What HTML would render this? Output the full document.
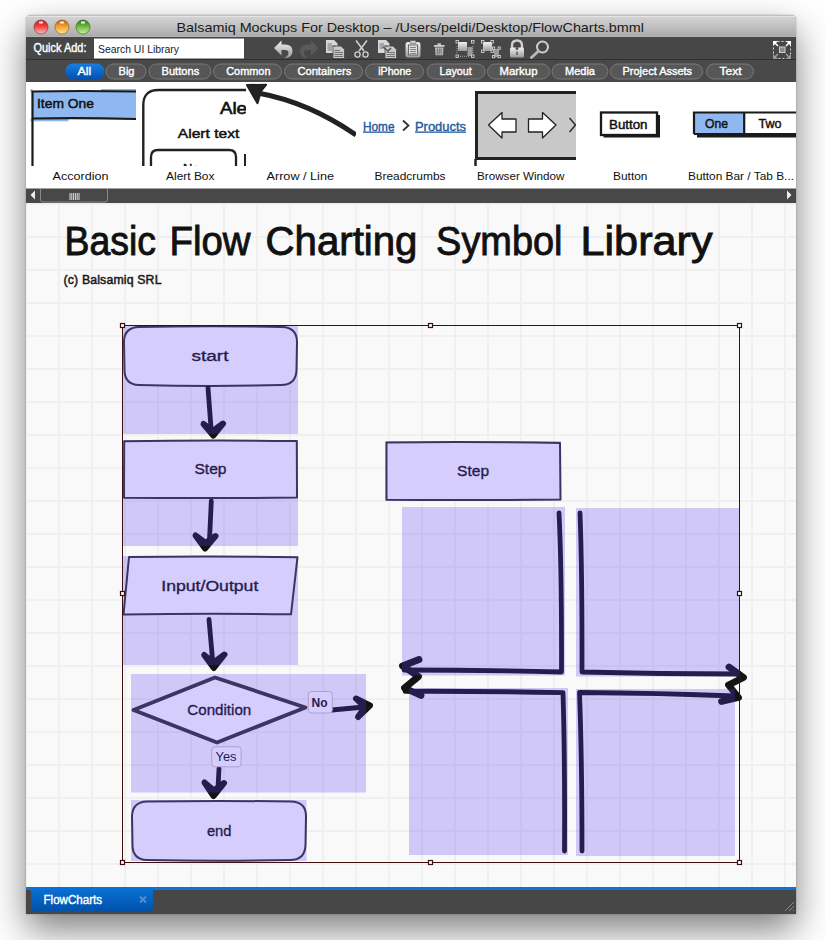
<!DOCTYPE html>
<html><head><meta charset="utf-8">
<style>
html,body{margin:0;padding:0}
body{width:825px;height:940px;position:relative;overflow:hidden;background:#fff;font-family:"Liberation Sans",sans-serif}
.a{position:absolute}
#shadow{left:26px;top:15px;width:770px;height:899px;border-radius:5px 5px 0 0;box-shadow:0 16px 36px rgba(0,0,0,0.5),0 0 2px rgba(0,0,0,0.3);background:#474747}
svg{position:absolute;left:0;top:0}
text{font-family:"Liberation Sans",sans-serif}
</style></head><body>
<div id="shadow" class="a"></div>
<svg width="825" height="940" viewBox="0 0 825 940">
<defs>
  <linearGradient id="gTitle" x1="0" y1="0" x2="0" y2="1">
    <stop offset="0" stop-color="#d6d6d6"/><stop offset="0.5" stop-color="#c2c2c2"/><stop offset="1" stop-color="#a9a9a9"/>
  </linearGradient>
  <linearGradient id="gRed" x1="0" y1="0" x2="0" y2="1">
    <stop offset="0" stop-color="#c41a1a"/><stop offset="0.45" stop-color="#f04040"/><stop offset="1" stop-color="#ffc0c0"/>
  </linearGradient>
  <linearGradient id="gYel" x1="0" y1="0" x2="0" y2="1">
    <stop offset="0" stop-color="#c05a10"/><stop offset="0.45" stop-color="#f0a030"/><stop offset="1" stop-color="#ffe890"/>
  </linearGradient>
  <linearGradient id="gGrn" x1="0" y1="0" x2="0" y2="1">
    <stop offset="0" stop-color="#2a7a1a"/><stop offset="0.45" stop-color="#6ab83e"/><stop offset="1" stop-color="#d0f0a0"/>
  </linearGradient>
  <linearGradient id="gIcon" x1="0" y1="0" x2="0" y2="1">
    <stop offset="0" stop-color="#f2f2f2"/><stop offset="1" stop-color="#9a9a9a"/>
  </linearGradient>
  <linearGradient id="gTab" x1="0" y1="0" x2="0" y2="1">
    <stop offset="0" stop-color="#0a72d8"/><stop offset="1" stop-color="#0052aa"/>
  </linearGradient>
  <linearGradient id="gAll" x1="0" y1="0" x2="0" y2="1">
    <stop offset="0" stop-color="#1a7ee0"/><stop offset="1" stop-color="#0050b0"/>
  </linearGradient>
  <pattern id="grid" x="25" y="203" width="33" height="33" patternUnits="userSpaceOnUse">
    <rect x="0" y="0" width="33" height="33" fill="#f9f9f9"/>
    <rect x="0" y="0" width="2" height="33" fill="#f0f0f0"/>
    <rect x="0" y="0" width="33" height="2" fill="#f0f0f0"/>
  </pattern>
  <clipPath id="clipLib"><rect x="26" y="82" width="770" height="107"/></clipPath>
  <clipPath id="clipCanvas"><rect x="26" y="203" width="770" height="684"/></clipPath>
</defs>

<!-- ===== TITLE BAR ===== -->
<path d="M26,37 V20 Q26,15 31,15 H791 Q796,15 796,20 V37 Z" fill="url(#gTitle)"/>
<rect x="28" y="15" width="766" height="1" fill="#c0c0c0"/><rect x="27" y="16" width="768" height="1" fill="#e4e4e4"/><rect x="26" y="36" width="770" height="1" fill="#b4b4b4"/>
<circle cx="41" cy="27" r="7" fill="url(#gRed)" stroke="#8a2020" stroke-width="0.6"/>
<ellipse cx="41" cy="22.5" rx="2.3" ry="1.3" fill="#fff" opacity="0.8"/>
<circle cx="62" cy="27" r="7" fill="url(#gYel)" stroke="#8a5010" stroke-width="0.6"/>
<ellipse cx="62" cy="22.5" rx="2.3" ry="1.3" fill="#fff" opacity="0.8"/>
<circle cx="83" cy="27" r="7" fill="url(#gGrn)" stroke="#2a5a1a" stroke-width="0.6"/>
<ellipse cx="83" cy="22.5" rx="2.3" ry="1.3" fill="#fff" opacity="0.8"/>
<text x="176.5" y="31.5" font-size="13.5" fill="#1a1a1a" textLength="467.5" lengthAdjust="spacingAndGlyphs">Balsamiq Mockups For Desktop – /Users/peldi/Desktop/FlowCharts.bmml</text>

<!-- ===== TOOLBAR ===== -->
<rect x="26" y="37" width="770" height="22" fill="#474747"/>
<rect x="26" y="59" width="770" height="1" fill="#303030"/>
<text x="33.5" y="52" font-size="12" fill="#fff" stroke="#fff" stroke-width="0.4" textLength="53" lengthAdjust="spacingAndGlyphs">Quick Add:</text>
<rect x="94" y="38" width="150" height="20.5" fill="#fff"/>
<rect x="94" y="38" width="150" height="1" fill="#9a9a9a"/>
<text x="98" y="52.5" font-size="11.5" fill="#1a2030" textLength="81" lengthAdjust="spacingAndGlyphs">Search UI Library</text>

<!-- icons -->
<g id="icons">
  <!-- undo -->
  <path d="M274,48 L281.5,40.5 V44.5 H285 Q292.5,44.5 292.5,51 Q292.5,58 285,58 H284 Q288.5,56 288.5,52.5 Q288.5,50 285,50 H281.5 V55.5 Z" fill="url(#gIcon)"/>
  <!-- redo (disabled) -->
  <path d="M318.5,48 L311,40.5 V44.5 H307.5 Q300,44.5 300,51 Q300,58 307.5,58 H308.5 Q304,56 304,52.5 Q304,50 307.5,50 H311 V55.5 Z" fill="#5a5a5a"/>
  <!-- copy -->
  <g fill="#d8d8d8">
    <path d="M326,40 H334 L337.5,43.5 V53 H326 Z"/>
    <path d="M333,46 H341 L344.5,49.5 V58.5 H333 Z" fill="#c8c8c8" stroke="#474747" stroke-width="0.8"/>
  </g>
  <g stroke="#6a6a6a" stroke-width="0.9">
    <path d="M327.5,44 H332 M327.5,46 H336 M327.5,48 H332 M327.5,50 H332"/>
    <path d="M334.5,50.5 H340 M334.5,52.5 H343 M334.5,54.5 H343 M334.5,56.5 H343"/>
  </g>
  <!-- cut -->
  <g stroke="#d0d0d0" fill="none">
    <path d="M356,40.5 L364,51 M367,40.5 L359,51" stroke-width="1.6"/>
    <circle cx="357.5" cy="54.5" r="2.6" stroke-width="1.3"/>
    <circle cx="365.5" cy="54.5" r="2.6" stroke-width="1.3"/>
  </g>
  <!-- duplicate -->
  <path d="M378,40 H386 L389.5,43.5 V53 H378 Z" fill="#d8d8d8"/>
  <path d="M385,46 H393 L396.5,49.5 V58.5 H385 Z" fill="#c8c8c8" stroke="#474747" stroke-width="0.8"/>
  <g stroke="#6a6a6a" stroke-width="0.9"><path d="M379.5,44 H384 M379.5,46 H388 M379.5,48 H383"/><path d="M386.5,52.5 H395 M386.5,54.5 H395 M386.5,56.5 H395"/></g>
  <path d="M383,47 L388,51 L391,48" stroke="#555" stroke-width="1.6" fill="none"/>
  <!-- clipboard -->
  <rect x="405.5" y="42" width="15" height="15.5" rx="2.5" fill="url(#gIcon)"/>
  <rect x="408" y="44.5" width="10" height="11" fill="#6a6a6a"/>
  <rect x="409" y="45.5" width="8" height="9" fill="#e0e0e0"/>
  <rect x="410" y="40.5" width="6" height="3" rx="1" fill="#cfcfcf" stroke="#555" stroke-width="0.6"/>
  <g stroke="#777" stroke-width="0.9"><path d="M410,47.5 H416 M410,49.5 H416 M410,51.5 H416 M410,53.5 H416"/></g>
  <!-- trash -->
  <rect x="434" y="45" width="10.5" height="1.8" fill="#d0d0d0"/>
  <rect x="437.5" y="43.3" width="3.5" height="1.6" fill="#d0d0d0"/>
  <path d="M435,47.5 H443.5 L443,55.3 H435.5 Z" fill="#bdbdbd"/>
  <g stroke="#555" stroke-width="0.8"><path d="M437.3,48.5 V54.5 M439.2,48.5 V54.5 M441.1,48.5 V54.5"/></g>
  <!-- group -->
  <rect x="458" y="42" width="9" height="9" fill="url(#gIcon)"/>
  <rect x="467.5" y="47" width="5" height="9" fill="#9a9a9a"/>
  <g fill="#474747" stroke="#ddd" stroke-width="0.8">
    <rect x="456" y="40.5" width="2.5" height="2.5"/><rect x="471.5" y="40.5" width="2.5" height="2.5"/>
    <rect x="456" y="55" width="2.5" height="2.5"/><rect x="471.5" y="55" width="2.5" height="2.5"/>
  </g>
  <path d="M457,46 V53 M460,56.3 H470 M472.8,46 V53" stroke="#bbb" stroke-width="0.8" stroke-dasharray="1,1"/>
  <!-- ungroup -->
  <rect x="483" y="42" width="9" height="9" fill="url(#gIcon)"/>
  <rect x="494" y="49" width="5" height="8" fill="#9a9a9a"/>
  <g fill="#474747" stroke="#ddd" stroke-width="0.8">
    <rect x="481.5" y="40.5" width="2.5" height="2.5"/><rect x="491" y="40.5" width="2.5" height="2.5"/>
    <rect x="481.5" y="50" width="2.5" height="2.5"/><rect x="491" y="50" width="2.5" height="2.5"/>
    <rect x="492.5" y="47" width="2.3" height="2.3"/><rect x="498" y="47" width="2.3" height="2.3"/>
    <rect x="492.5" y="55.5" width="2.3" height="2.3"/><rect x="498" y="55.5" width="2.3" height="2.3"/>
  </g>
  <!-- lock -->
  <path d="M512,48 V45.5 Q512,40.5 517,40.5 Q522,40.5 522,45.5 V48" stroke="#cfcfcf" stroke-width="2.4" fill="none"/>
  <rect x="510" y="47.5" width="14" height="10" rx="1.5" fill="url(#gIcon)"/>
  <path d="M517,50 a1.5,1.5 0 1,1 0.01,0 M516.3,51.5 H517.7 V55 H516.3 Z" fill="#555"/>
  <!-- search -->
  <circle cx="542.5" cy="47" r="5.5" stroke="#cfcfcf" stroke-width="2" fill="none"/>
  <path d="M538.5,51 L531.5,57.5" stroke="#b8b8b8" stroke-width="3" stroke-linecap="round"/>
  <!-- fit to screen -->
  <g>
    <rect x="773.5" y="41.5" width="17" height="17" fill="none" stroke="#d8d8d8" stroke-width="1" stroke-dasharray="2,2"/>
    <path d="M773,41 H778 L773,46 Z M791,41 H786 L791,46 Z" fill="#fff"/>
    <path d="M774,42 L778,46 M790,42 L786,46" stroke="#fff" stroke-width="1.6"/>
    <path d="M773,59 H778 L773,54 Z M791,59 H786 L791,54 Z" fill="#9a9a9a"/>
    <path d="M774,58 L778,54 M790,58 L786,54" stroke="#9a9a9a" stroke-width="1.6"/>
    <rect x="779.5" y="47" width="5.5" height="5.5" fill="#8a8a8a" stroke="#d0d0d0" stroke-width="1"/>
  </g>
</g>

<!-- ===== FILTER BAR ===== -->
<rect x="26" y="60" width="770" height="22" fill="#494949"/>
<g stroke="#7a7a7a" stroke-width="1" fill="#575757">
  <rect x="106" y="64" width="40" height="15" rx="7.5"/>
  <rect x="149" y="64" width="62" height="15" rx="7.5"/>
  <rect x="213.5" y="64" width="68" height="15" rx="7.5"/>
  <rect x="284.5" y="64" width="78" height="15" rx="7.5"/>
  <rect x="365.5" y="64" width="58" height="15" rx="7.5"/>
  <rect x="427" y="64" width="58" height="15" rx="7.5"/>
  <rect x="487.5" y="64" width="62" height="15" rx="7.5"/>
  <rect x="552" y="64" width="56" height="15" rx="7.5"/>
  <rect x="610.5" y="64" width="92" height="15" rx="7.5"/>
  <rect x="706.5" y="64" width="47" height="15" rx="7.5"/>
</g>
<rect x="65" y="63.5" width="39.5" height="16" rx="8" fill="url(#gAll)"/>
<g font-size="11.5" fill="#fff" stroke="#fff" stroke-width="0.4">
  <text x="77.5" y="74.9" textLength="13.7" lengthAdjust="spacingAndGlyphs">All</text>
  <text x="118.5" y="74.9" textLength="16.0" lengthAdjust="spacingAndGlyphs">Big</text>
  <text x="161.5" y="74.9" textLength="37.7" lengthAdjust="spacingAndGlyphs">Buttons</text>
  <text x="226.2" y="74.9" textLength="44.3" lengthAdjust="spacingAndGlyphs">Common</text>
  <text x="297.4" y="74.9" textLength="53.9" lengthAdjust="spacingAndGlyphs">Containers</text>
  <text x="378.2" y="74.9" textLength="33.1" lengthAdjust="spacingAndGlyphs">iPhone</text>
  <text x="439.5" y="74.9" textLength="32.3" lengthAdjust="spacingAndGlyphs">Layout</text>
  <text x="499.5" y="74.9" textLength="38.0" lengthAdjust="spacingAndGlyphs">Markup</text>
  <text x="565.0" y="74.9" textLength="30.0" lengthAdjust="spacingAndGlyphs">Media</text>
  <text x="622.5" y="74.9" textLength="69.6" lengthAdjust="spacingAndGlyphs">Project Assets</text>
  <text x="719.5" y="74.9" textLength="22.0" lengthAdjust="spacingAndGlyphs">Text</text>
</g>

<!-- ===== LIBRARY ===== -->
<rect x="26" y="82" width="770" height="107" fill="#fff"/>
<g clip-path="url(#clipLib)">
  <!-- accordion -->
  <rect x="33" y="91.5" width="103" height="26.5" fill="#8fb7f0"/><rect x="101" y="89" width="35" height="2.5" fill="#8fb7f0"/><rect x="30.5" y="118.5" width="38" height="2.8" fill="#8fb7f0"/><rect x="30.5" y="89" width="2" height="3" fill="#8fb7f0"/>
  <path d="M32.5,166 V91.5 Q80,90.5 136,91.5 M32.5,118.5 Q80,117.5 136,119" stroke="#1a1a1a" stroke-width="2.2" fill="none"/>
  <text x="37" y="108.3" font-size="12.5" fill="#111" stroke="#111" stroke-width="0.45" textLength="57" lengthAdjust="spacingAndGlyphs">Item One</text>
  <!-- alert box -->
  <svg x="142" y="82" width="104" height="84" overflow="hidden">
    <path d="M1.3,90 V23 Q1.3,8 16.5,8 H110" stroke="#222" stroke-width="2.4" fill="none"/>
    <text x="78" y="31.7" font-size="16" fill="#111" stroke="#111" stroke-width="0.6" textLength="27" lengthAdjust="spacingAndGlyphs">Ale</text>
    <text x="35.8" y="56" font-size="13" fill="#111" stroke="#111" stroke-width="0.45" textLength="61.5" lengthAdjust="spacingAndGlyphs">Alert text</text>
    <path d="M9,90 V75 Q9,68 16,68 H87 Q94,68 94,75 V90" stroke="#222" stroke-width="2.3" fill="none"/>
    <text x="41" y="91" font-size="13" fill="#111" stroke="#111" stroke-width="0.45">No</text>
    <path d="M103,72 V90" stroke="#222" stroke-width="2"/>
  </svg>
  <!-- arrow / line -->
  <svg x="246" y="82" width="110" height="84" overflow="hidden">
    <path d="M12,11 C39,16 74,28 110,53" stroke="#222" stroke-width="5" fill="none"/>
    <path d="M0.9,3 L20.2,2.7 L15,9 L11.5,21.3 Z" fill="#222" stroke="#222" stroke-width="2" stroke-linejoin="round"/>
  </svg>
  <!-- breadcrumbs -->
  <text x="363" y="130.5" font-size="13" fill="#1e5aa0" stroke="#1e5aa0" stroke-width="0.4" textLength="31.5" lengthAdjust="spacingAndGlyphs">Home</text>
  <rect x="363" y="131.5" width="31.5" height="1.3" fill="#1e5aa0"/>
  <path d="M403,120.5 L408.5,125.5 L403,130.5" stroke="#333" stroke-width="1.8" fill="none"/>
  <text x="415" y="130.5" font-size="13" fill="#1e5aa0" stroke="#1e5aa0" stroke-width="0.4" textLength="51" lengthAdjust="spacingAndGlyphs">Products</text>
  <rect x="415" y="131.5" width="51" height="1.3" fill="#1e5aa0"/>
  <!-- browser window -->
  <svg x="474" y="82" width="102" height="84" overflow="hidden">
    <rect x="2.5" y="10.5" width="120" height="66" fill="#c8c8c8" stroke="#222" stroke-width="3"/>
    <path d="M1.5,77 V84" stroke="#222" stroke-width="2.5"/>
    <path d="M14.5,43 L28,30.5 V37 H42 V50 H28 V56 Z" fill="#fff" stroke="#222" stroke-width="1.3" stroke-linejoin="round"/>
    <path d="M82,43 L68.5,30.5 V37 H54.5 V50 H68.5 V56 Z" fill="#fff" stroke="#222" stroke-width="1.3" stroke-linejoin="round"/>
    <path d="M95.5,36 L101.5,43 L95.5,50" stroke="#222" stroke-width="1.3" fill="none"/>
  </svg>
  <!-- button -->
  <rect x="603.5" y="115" width="56.5" height="22.5" fill="#1a1a1a"/>
  <rect x="601" y="112.5" width="56" height="22.5" fill="#fff" stroke="#1a1a1a" stroke-width="2.3"/>
  <text x="609" y="129.2" font-size="12" fill="#111" stroke="#111" stroke-width="0.45" textLength="38.5" lengthAdjust="spacingAndGlyphs">Button</text>
  <!-- button bar -->
  <rect x="697" y="131" width="110" height="6.5" fill="#1a1a1a"/>
  <rect x="694" y="112.5" width="50" height="21.5" fill="#8fb7f0"/>
  <rect x="744" y="112.5" width="70" height="21.5" fill="#fff"/>
  <path d="M694,134 V112.5 H800 M694,134 H800 M744.2,112.5 V134" stroke="#1a1a1a" stroke-width="2.2" fill="none"/>
  <text x="705" y="127.6" font-size="13" fill="#111" stroke="#111" stroke-width="0.45" textLength="23" lengthAdjust="spacingAndGlyphs">One</text>
  <text x="758.5" y="127.6" font-size="13" fill="#111" stroke="#111" stroke-width="0.45" textLength="23" lengthAdjust="spacingAndGlyphs">Two</text>
  <!-- labels -->
  <g font-size="11.3" fill="#111">
    <text x="52.5" y="179.8" textLength="56" lengthAdjust="spacingAndGlyphs">Accordion</text>
    <text x="166" y="179.8" textLength="48.5" lengthAdjust="spacingAndGlyphs">Alert Box</text>
    <text x="266.5" y="179.8" textLength="67.5" lengthAdjust="spacingAndGlyphs">Arrow / Line</text>
    <text x="374.5" y="179.8" textLength="71" lengthAdjust="spacingAndGlyphs">Breadcrumbs</text>
    <text x="477" y="179.8" textLength="87.5" lengthAdjust="spacingAndGlyphs">Browser Window</text>
    <text x="613" y="179.8" textLength="34.5" lengthAdjust="spacingAndGlyphs">Button</text>
    <text x="688" y="179.8" textLength="106" lengthAdjust="spacingAndGlyphs">Button Bar / Tab B...</text>
  </g>
</g>

<!-- ===== SCROLLBAR ===== -->
<rect x="26" y="188.5" width="770" height="14.5" fill="#484848"/>
<path d="M35,190.5 V199.5 L30.5,195 Z" fill="#eee"/>
<path d="M40.5,189 V200 Q40.5,202 43,202 H105 Q107.5,202 107.5,200 V189" stroke="#8a8a8a" stroke-width="1" fill="#484848"/>
<g stroke="#eee" stroke-width="0.9"><path d="M70,193 V200 M71.8,193 V200 M73.6,193 V200 M75.4,193 V200 M77.2,193 V200 M79,193 V200"/></g>
<path d="M787,190.5 V199.5 L791.5,195 Z" fill="#eee"/>

<!-- ===== CANVAS ===== -->
<rect x="26" y="203" width="770" height="684" fill="url(#grid)"/>
<g clip-path="url(#clipCanvas)">
  <g font-size="40" fill="#111" stroke="#111" stroke-width="0.9"><text x="64.5" y="255" textLength="91.5" lengthAdjust="spacingAndGlyphs">Basic</text><text x="169.5" y="255" textLength="81.0" lengthAdjust="spacingAndGlyphs">Flow</text><text x="265.5" y="255" textLength="152.0" lengthAdjust="spacingAndGlyphs">Charting</text><text x="436.1" y="255" textLength="126.4" lengthAdjust="spacingAndGlyphs">Symbol</text><text x="580.5" y="255" textLength="132.0" lengthAdjust="spacingAndGlyphs">Library</text></g>
  <text x="63.5" y="284.2" font-size="12.3" fill="#1a1a1a" stroke="#1a1a1a" stroke-width="0.5" textLength="98" lengthAdjust="spacing">(c) Balsamiq SRL</text>


  <!-- shapes -->
  <g fill="#fff" stroke="#333" stroke-width="2" stroke-linejoin="round">
    <path d="M139,327 Q210,325.5 282,327 Q297,327.5 297,342 L296.5,370 Q296,385 281,385 Q210,387 139,385 Q124.5,384.5 124.5,370 L124,342 Q124,327.5 139,327 Z"/>
    <path d="M124.2,441.2 Q210,440 296.8,441 L297,497.5 Q210,498.5 124,497.8 Z"/>
    <path d="M129,557 Q213,556 297.5,557.2 L291,614.3 Q207,613.3 123.5,614.5 Z"/>
    <path d="M147,801.5 Q219,800.5 291,801.5 Q306,802 306,816 L305.5,845 Q305,860 290,860 Q219,861.5 147,860 Q132.5,859.5 132.5,845 L132,816 Q132.5,802 147,801.5 Z"/>
    <path d="M386.5,442.5 Q473,441.5 560,443 L560.5,499.5 Q473,500.5 386.5,499.8 Z"/>
  </g>
  <path d="M133.5,710 L215,677.5 L305.5,707.5 L217,742.5 Z" fill="#fff" stroke="#333" stroke-width="3.8" stroke-linejoin="round"/>

  <!-- shape labels -->
  <g font-size="15.5" fill="#111" stroke="#111" stroke-width="0.35">
    <text x="191.5" y="361" textLength="37" lengthAdjust="spacingAndGlyphs">start</text>
    <text x="194.5" y="474.3" textLength="32" lengthAdjust="spacingAndGlyphs">Step</text>
    <text x="161.3" y="590.7" textLength="97" lengthAdjust="spacingAndGlyphs">Input/Output</text>
    <text x="187.3" y="715.4" textLength="64" lengthAdjust="spacingAndGlyphs">Condition</text>
    <text x="206.9" y="835.9" textLength="24.5" lengthAdjust="spacingAndGlyphs">end</text>
    <text x="457.1" y="475.9" textLength="32" lengthAdjust="spacingAndGlyphs">Step</text>
  </g>

  <!-- arrows -->
  <g stroke="#141414" stroke-linecap="round" stroke-linejoin="round" fill="none">
    <path d="M208,388 L211,428" stroke-width="4.8"/>
    <path d="M203.5,424 L213.3,435.5 L223,423.5 L213,431 Z" fill="#141414" stroke-width="6"/>
    <path d="M211.3,501 L209.5,540" stroke-width="4.8"/>
    <path d="M195.5,535.5 L205,548.5 L215.5,536 L205.5,543 Z" fill="#141414" stroke-width="6"/>
    <path d="M209,619.5 L212.4,658" stroke-width="4.8"/>
    <path d="M204.2,655 L213.8,668 L224.5,654.5 L213.8,662.5 Z" fill="#141414" stroke-width="6"/>
    <path d="M219,768.5 L218,788" stroke-width="4.8"/>
    <path d="M204.5,782.5 L213.5,796 L224,783 L214,790.5 Z" fill="#141414" stroke-width="6"/>
    <path d="M332,710 L364,707" stroke-width="4.8"/>
    <path d="M356,698.5 L370,705.5 L358,717 L365,707 Z" fill="#141414" stroke-width="6"/>
    <!-- cross -->
    <path d="M559,513 Q561.8,570 561.5,672 Q480,670 404,670" stroke-width="4.8"/>
    <path d="M419,659.5 L402.5,666 L418.5,676.5 L404.5,688 L421,695.5" stroke-width="6.8"/>
    <path d="M405,691.3 Q480,691 563,692.6 Q565,760 564.5,851" stroke-width="4.8"/>
    <path d="M580,513 Q582.2,570 582,672 Q660,674 740,674" stroke-width="4.8"/>
    <path d="M729,667 L743.5,677.5 L728.5,685 L738.5,697.5 L721.5,701.5" stroke-width="6.8"/>
    <path d="M582,851 Q582,760 579.5,692.5 Q660,693 735,696" stroke-width="4.8"/>
  </g>

  <!-- connector labels -->
  <rect x="211.8" y="746.8" width="29.3" height="20" rx="3" fill="#fff" stroke="#c0bcc8" stroke-width="0.9"/>
  <text x="215.5" y="761" font-size="12.5" fill="#111" textLength="21" lengthAdjust="spacingAndGlyphs">Yes</text>
  <rect x="308.3" y="691.5" width="24" height="21.5" rx="3" fill="#fff" stroke="#c0bcc8" stroke-width="0.9"/>
  <text x="311.5" y="706.8" font-size="12.5" font-weight="bold" fill="#111" textLength="16" lengthAdjust="spacingAndGlyphs">No</text>

  <!-- group backgrounds -->
  <g fill="#5a3cf4" opacity="0.25">
    <rect x="123" y="326" width="175" height="108"/>
    <rect x="123" y="440" width="175" height="106"/>
    <rect x="123" y="556" width="175" height="109"/>
    <rect x="131" y="674" width="235" height="118.5"/>
    <rect x="131" y="800" width="175.5" height="61"/>
    <rect x="385" y="441" width="176" height="60"/>
    <rect x="402" y="507" width="163" height="168.5"/>
    <rect x="576" y="508" width="163" height="168.5"/>
    <rect x="409" y="688" width="159" height="167"/>
    <rect x="576" y="689" width="159" height="167"/>
  </g>

  <!-- selection -->
  <rect x="122.5" y="325.5" width="617" height="537" fill="none" stroke="#3c1010" stroke-width="1"/>
  <g fill="#fff" stroke="#3c1010" stroke-width="1.2">
    <rect x="120.5" y="323.5" width="4" height="4"/>
    <rect x="428.5" y="323.5" width="4" height="4"/>
    <rect x="737.5" y="323.5" width="4" height="4"/>
    <rect x="120.5" y="591.5" width="4" height="4"/>
    <rect x="737.5" y="591.5" width="4" height="4"/>
    <rect x="120.5" y="860.5" width="4" height="4"/>
    <rect x="428.5" y="860.5" width="4" height="4"/>
    <rect x="737.5" y="860.5" width="4" height="4"/>
  </g>
</g>

<!-- ===== TABS ===== -->
<rect x="26" y="887" width="770" height="3" fill="#0a74dc"/>
<rect x="26" y="890" width="770" height="24" fill="#474747"/>
<path d="M31,887 H153 V908 Q153,911 150,911 H34 Q31,911 31,908 Z" fill="url(#gTab)"/>
<text x="43.5" y="904" font-size="12" fill="#fff" stroke="#fff" stroke-width="0.4" textLength="58.5" lengthAdjust="spacingAndGlyphs">FlowCharts</text>
<path d="M140,896.5 L146,902.5 M146,896.5 L140,902.5" stroke="#5a8cd2" stroke-width="1.8"/>
<path d="M785,911 L794,902 M789,911 L794,906 M793,911 L794,910" stroke="#999" stroke-width="0.8"/>
</svg>
</body></html>
